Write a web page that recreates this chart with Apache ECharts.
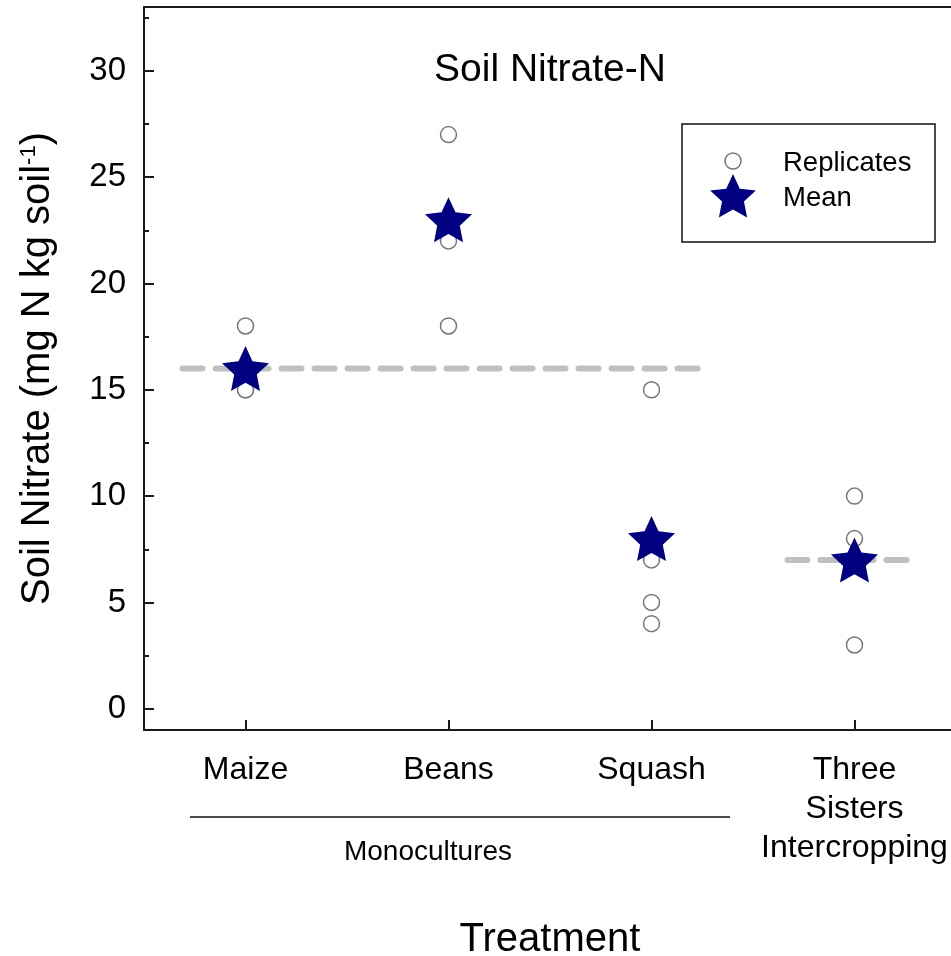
<!DOCTYPE html>
<html><head><meta charset="utf-8">
<script src="https://cdn.jsdelivr.net/npm/echarts@6/dist/echarts.min.js"></script>
<style>html,body{margin:0;padding:0;background:#fff}#c{width:951px;height:956px}</style>
</head><body><div id="c"></div>
<script>
// ---- data ----
const categories = ['Maize', 'Beans', 'Squash', 'Three\nSisters\nIntercropping'];
const replicateX = [1, 1, 1, 2, 2, 2, 3, 3, 3, 3, 4, 4, 4];
const replicateY = [18, 15, 15, 27, 22, 18, 15, 7, 5, 4, 10, 8, 3];
const meanX = [1, 2, 3, 4];
const meanY = [16, 23, 8, 7];
const refStart = [0.69, 3.67];
const refEnd = [3.28, 4.30];
const refValue = [16, 7];
const yMajorTicks = [0, 5, 10, 15, 20, 25, 30];
const yMinorTicks = [2.5, 7.5, 12.5, 17.5, 22.5, 27.5, 32.5];

// ---- helpers ----
function starPts(cx, cy, R, r) {
  const pts = [];
  for (let i = 0; i < 10; i++) {
    const a = -Math.PI / 2 + i * Math.PI / 5;
    const rad = i % 2 === 0 ? R : r;
    pts.push([cx + rad * Math.cos(a), cy + rad * Math.sin(a)]);
  }
  return pts;
}
const starPath = 'path://' + starPts(0, 0, 100, 48).map((p, i) => (i ? 'L' : 'M') + p[0].toFixed(2) + ' ' + p[1].toFixed(2)).join(' ') + ' Z';

const FONT = 'Liberation Sans, Arial, sans-serif';
const AXC = '#1a1a1a';
const TXT = '#000';

const chart = echarts.init(document.getElementById('c'), null, { renderer: 'canvas' });

const series = [];
refValue.forEach((v, i) => {
  series.push({
    type: 'line', xAxisIndex: 1, yAxisIndex: 0, silent: true, z: 1,
    symbol: 'none',
    data: [[refStart[i], v], [refEnd[i], v]],
    lineStyle: { color: '#c0c0c0', width: 6, type: [20, 13], cap: 'round' }
  });
});
series.push({
  name: 'Replicates', type: 'scatter', xAxisIndex: 1, yAxisIndex: 0, z: 2,
  symbol: 'circle', symbolSize: 16,
  itemStyle: { color: '#ffffff', borderColor: '#777', borderWidth: 1.5, opacity: 1 },
  data: replicateX.map((x, i) => [x, replicateY[i]])
});
series.push({
  name: 'Mean', type: 'scatter', xAxisIndex: 1, yAxisIndex: 0, z: 3,
  symbol: starPath, symbolSize: [47, 45],
  itemStyle: { color: '#000080', opacity: 1 },
  data: meanX.map((x, i) => [x, meanY[i]])
});

const option = {
  animation: false,
  backgroundColor: '#fff',
  textStyle: { fontFamily: FONT },
  grid: { left: 144, top: 7, right: -5, bottom: 226, containLabel: false, outerBoundsMode: 'none' },
  xAxis: [
    {
      type: 'category', position: 'bottom', data: categories, boundaryGap: true,
      axisLine: { show: true, onZero: false, lineStyle: { color: AXC, width: 2 } },
      axisTick: { show: true, inside: true, length: 10, interval: 0, alignWithLabel: true, lineStyle: { color: AXC, width: 2 } },
      axisLabel: { interval: 0, fontSize: 32, lineHeight: 39, margin: 21, color: TXT, fontFamily: FONT, verticalAlign: 'top' },
      splitLine: { show: false },
      name: 'Treatment', nameLocation: 'middle', nameGap: 190,
      nameTextStyle: { fontSize: 40, color: TXT, fontFamily: FONT }
    },
    {
      type: 'value', position: 'top', min: 0.5, max: 4.5,
      axisLine: { show: true, onZero: false, lineStyle: { color: AXC, width: 2 } },
      axisTick: { show: false }, axisLabel: { show: false }, splitLine: { show: false }
    }
  ],
  yAxis: [
    {
      type: 'value', position: 'left', min: -1, max: 33,
      axisLine: { show: true, onZero: false, lineStyle: { color: AXC, width: 2 } },
      axisTick: { show: true, inside: true, length: 10, customValues: yMajorTicks, lineStyle: { color: AXC, width: 2 } },
      axisLabel: { show: true, customValues: yMajorTicks, fontSize: 33, margin: 18, color: TXT, fontFamily: FONT },
      splitLine: { show: false },
      name: '{m|Soil Nitrate (mg N kg soil}{s|-1}{m|)}',
      nameLocation: 'middle', nameRotate: 90, nameGap: 86,
      nameTextStyle: {
        color: TXT, fontFamily: FONT, fontSize: 40,
        rich: {
          m: { fontSize: 40, color: TXT, fontFamily: FONT },
          s: { fontSize: 22, color: TXT, fontFamily: FONT, verticalAlign: 'top' }
        }
      }
    },
    {
      type: 'value', position: 'left', min: -1, max: 33,
      axisLine: { show: false, onZero: false },
      axisTick: { show: true, inside: true, length: 5, customValues: yMinorTicks, lineStyle: { color: AXC, width: 2 } },
      axisLabel: { show: false }, splitLine: { show: false }
    }
  ],
  graphic: [
    { type: 'text', x: 550, y: 70, z: 10,
      style: { text: 'Soil Nitrate-N', font: '39px ' + FONT, fill: TXT, textAlign: 'center', textVerticalAlign: 'middle' } },
    { type: 'rect', z: 10, shape: { x: 682, y: 124, width: 253, height: 118 },
      style: { fill: 'none', stroke: '#111', lineWidth: 1.5 } },
    { type: 'circle', z: 11, shape: { cx: 733, cy: 161, r: 8 },
      style: { fill: '#fff', stroke: '#777', lineWidth: 1.5 } },
    { type: 'polygon', z: 11, shape: { points: starPts(733, 198, 24, 11.5) },
      style: { fill: '#000080' } },
    { type: 'text', x: 783, y: 163, z: 11,
      style: { text: 'Replicates', font: '27.5px ' + FONT, fill: TXT, textVerticalAlign: 'middle' } },
    { type: 'text', x: 783, y: 198, z: 11,
      style: { text: 'Mean', font: '27.5px ' + FONT, fill: TXT, textVerticalAlign: 'middle' } },
    { type: 'line', z: 10, shape: { x1: 190, y1: 817, x2: 730, y2: 817 },
      style: { stroke: '#111', lineWidth: 1.5 } },
    { type: 'text', x: 428, y: 852, z: 10,
      style: { text: 'Monocultures', font: '28px ' + FONT, fill: TXT, textAlign: 'center', textVerticalAlign: 'middle' } }
  ],
  series: series
};
chart.setOption(option);
</script></body></html>
